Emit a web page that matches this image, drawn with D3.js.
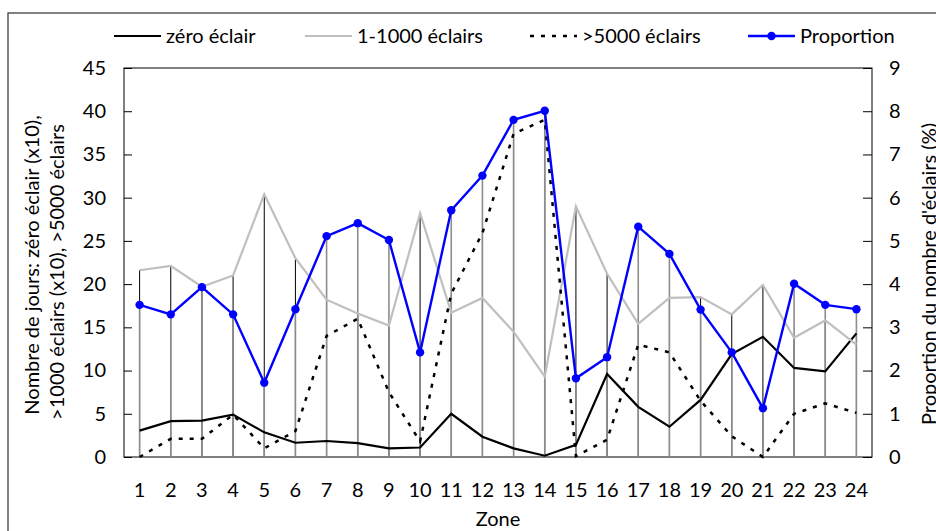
<!DOCTYPE html>
<html lang="fr">
<head>
<meta charset="utf-8">
<title>Nombre de jours et proportion d'éclairs par zone</title>
<script src="https://d3js.org/d3.v7.min.js"></script>
<style>
  body { margin: 0; background: #fff; }
  svg text { font-family: Lato, "Liberation Sans", sans-serif; fill: #000; }
  .axis path { display: none; }
  .axis line { stroke: #000; }
  .axis text { font-size: 20px; }
</style>
</head>
<body>
<script>
// data
const zones = d3.range(1, 25);
const zeroEclair = [3.05, 4.15, 4.2, 4.9, 2.85, 1.65, 1.85, 1.6, 1.0, 1.1, 5.0, 2.35, 1.0, 0.15, 1.4, 9.6, 5.8, 3.5, 6.6, 11.9, 13.9, 10.3, 9.9, 14.3];
const eclairs1000 = [21.6, 22.1, 19.7, 21.0, 30.4, 23.0, 18.2, 16.6, 15.2, 28.2, 16.7, 18.4, 14.5, 9.3, 29.0, 21.2, 15.4, 18.4, 18.5, 16.5, 19.9, 13.8, 15.8, 13.0];
const eclairs5000 = [0, 2.1, 2.1, 4.9, 1.0, 3.0, 14.0, 16.0, 7.5, 1.8, 18.9, 25.9, 37.4, 39.0, 0.1, 2.0, 13.0, 12.1, 6.5, 2.4, 0, 5.0, 6.2, 5.1];
const proportion = [3.52, 3.3, 3.93, 3.3, 1.72, 3.42, 5.11, 5.41, 5.02, 2.42, 5.71, 6.51, 7.8, 8.01, 1.82, 2.31, 5.33, 4.7, 3.41, 2.42, 1.13, 4.01, 3.52, 3.42];
const leftTicks = d3.range(0, 46, 5);
const rightTicks = d3.range(0, 10, 1);

const w = 936, h = 531;
const plot = { left: 124, right: 872, top: 68, bottom: 457 };
const fontSize = "20px";

const svg = d3.select("body").append("svg")
    .attr("width", w)
    .attr("height", h);

// outer chart frame
svg.append("rect")
    .attr("x", 8).attr("y", 13)
    .attr("width", 1000).attr("height", 1000)
    .attr("fill", "none")
    .attr("stroke", "#404040")
    .attr("stroke-width", 1.3);

//scales
const xBand = d3.scaleBand().domain(zones).range([plot.left, plot.right]);
const xScale = d => xBand(d) + xBand.bandwidth() / 2;
const yLeft = d3.scaleLinear().domain([0, 45]).range([plot.bottom, plot.top]);
const yRight = d3.scaleLinear().domain([0, 9]).range([plot.bottom, plot.top]);

// plot frame
svg.append("rect")
    .attr("x", plot.left).attr("y", plot.top)
    .attr("width", plot.right - plot.left).attr("height", plot.bottom - plot.top)
    .attr("fill", "none").attr("stroke", "#000").attr("stroke-width", 1);

// axes
svg.append("g")
    .attr("class", "axis")
    .attr("transform", "translate(" + plot.left + ",0)")
    .call(d3.axisLeft(yLeft).tickValues(leftTicks).tickSize(-8).tickPadding(18));

svg.append("g")
    .attr("class", "axis")
    .attr("transform", "translate(" + plot.right + ",0)")
    .call(d3.axisRight(yRight).tickValues(rightTicks).tickSize(-9).tickPadding(17));

svg.append("g")
    .attr("class", "axis")
    .attr("transform", "translate(0," + plot.bottom + ")")
    .call(d3.axisBottom(xBand).tickSize(0).tickPadding(26));

// drop lines: primary group (thin dark) then secondary group (grey)
svg.append("g").selectAll("line")
    .data(zones)
    .join("line")
    .attr("x1", (d, i) => xScale(d)).attr("x2", (d, i) => xScale(d))
    .attr("y1", (d, i) => yLeft(Math.max(zeroEclair[i], eclairs1000[i], eclairs5000[i])))
    .attr("y2", plot.bottom)
    .attr("stroke", "#000").attr("stroke-width", 1);

svg.append("g").selectAll("line")
    .data(zones)
    .join("line")
    .attr("x1", (d, i) => xScale(d)).attr("x2", (d, i) => xScale(d))
    .attr("y1", (d, i) => yRight(proportion[i]))
    .attr("y2", plot.bottom)
    .attr("stroke", "#8c8c8c").attr("stroke-width", 1.6);

// series
const lineLeft = d3.line().x((d, i) => xScale(zones[i])).y(d => yLeft(d));
const lineRight = d3.line().x((d, i) => xScale(zones[i])).y(d => yRight(d));

svg.append("path").attr("d", lineLeft(zeroEclair))
    .attr("fill", "none").attr("stroke", "#000").attr("stroke-width", 2.2);

svg.append("path").attr("d", lineLeft(eclairs1000))
    .attr("fill", "none").attr("stroke", "#bfbfbf").attr("stroke-width", 2.2);

svg.append("path").attr("d", lineLeft(eclairs5000))
    .attr("fill", "none").attr("stroke", "#000").attr("stroke-width", 2.5)
    .attr("stroke-dasharray", "4,7");

svg.append("path").attr("d", lineRight(proportion))
    .attr("fill", "none").attr("stroke", "#0000ff").attr("stroke-width", 2.4);

svg.append("g").selectAll("circle")
    .data(proportion)
    .join("circle")
    .attr("cx", (d, i) => xScale(zones[i]))
    .attr("cy", d => yRight(d))
    .attr("r", 4.2)
    .attr("fill", "#0000ff");

// legend
const legendItems = [
    { label: "zéro éclair", x: 114, stroke: "#000", dash: null, width: 2.2 },
    { label: "1-1000 éclairs", x: 305, stroke: "#bfbfbf", dash: null, width: 2.2 },
    { label: ">5000 éclairs", x: 530, stroke: "#000", dash: "4,7", width: 2.5 },
    { label: "Proportion", x: 748, stroke: "#0000ff", dash: null, width: 2.4, marker: true }
];
const legend = svg.append("g").selectAll("g")
    .data(legendItems)
    .join("g")
    .attr("transform", d => "translate(" + d.x + ",36)");
legend.append("line")
    .attr("x1", 0).attr("x2", 47)
    .attr("stroke", d => d.stroke)
    .attr("stroke-width", d => d.width)
    .attr("stroke-dasharray", d => d.dash);
legend.filter(d => d.marker).append("circle")
    .attr("cx", 23.5).attr("r", 4.2).attr("fill", "#0000ff");
legend.append("text")
    .attr("x", 52).attr("y", 7)
    .style("font-size", fontSize)
    .text(d => d.label);

// axis titles
svg.append("text")
    .attr("x", (plot.left + plot.right) / 2).attr("y", 526)
    .attr("text-anchor", "middle")
    .style("font-size", fontSize)
    .text("Zone");

svg.append("text")
    .attr("transform", "translate(39,265) rotate(-90)")
    .attr("text-anchor", "middle")
    .style("font-size", fontSize)
    .text("Nombre de jours: zéro éclair (x10),");

svg.append("text")
    .attr("transform", "translate(64,272) rotate(-90)")
    .attr("text-anchor", "middle")
    .style("font-size", fontSize)
    .text(">1000 éclairs (x10), >5000 éclairs");

svg.append("text")
    .attr("transform", "translate(936,274) rotate(-90)")
    .attr("text-anchor", "middle")
    .style("font-size", fontSize)
    .text("Proportion du nombre d'éclairs (%)");
</script>
</body>
</html>
